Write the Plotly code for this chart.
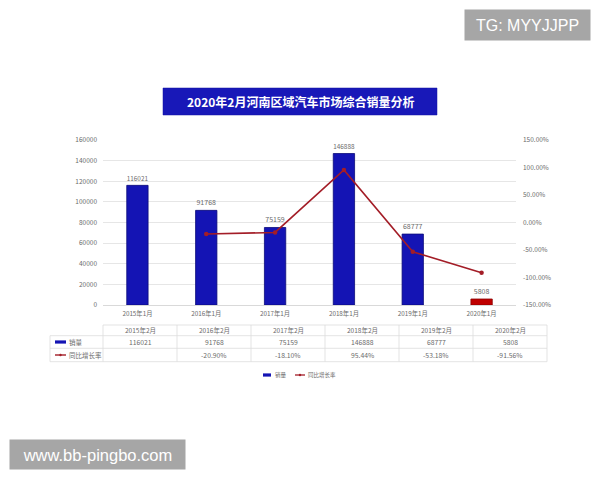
import plotly.graph_objects as go

# ---------------- data ----------------
categories = ["2015年1月", "2016年1月", "2017年1月", "2018年1月", "2019年1月", "2020年1月"]
table_headers = ["2015年2月", "2016年2月", "2017年2月", "2018年2月", "2019年2月", "2020年2月"]
sales = [116021, 91768, 75159, 146888, 68777, 5808]
growth = [None, -20.90, -18.10, 95.44, -53.18, -91.56]
series_names = ["销量", "同比增长率"]
title_text = "2020年2月河南区域汽车市场综合销量分析"
left_ticks = [0, 20000, 40000, 60000, 80000, 100000, 120000, 140000, 160000]
right_ticks = [-150, -100, -50, 0, 50, 100, 150]

# ---------------- styling ----------------
BLUE = "#1414b4"
BLUE_EDGE = "#0b0b7a"
RED_BAR = "#c00000"
LINE_RED = "#a31d27"
GRID = "#e6e6e6"
TXT = "#6b6b6b"
CJK = "Noto Sans CJK SC, Noto Sans, sans-serif"
W, H = 600, 480
PL, PR, PT, PB = 103, 516, 140, 305


def px_x(x):
    return (x - PL) / (PR - PL)


def px_y(y):
    return (PB - y) / (PB - PT)


bar_colors = [BLUE] * (len(sales) - 1) + [RED_BAR]
bar_edges = [BLUE_EDGE] * (len(sales) - 1) + ["#8a0000"]

fig = go.Figure()
fig.add_trace(go.Bar(
    x=categories, y=sales, name=series_names[0],
    marker=dict(color=bar_colors, line=dict(color=bar_edges, width=0.8)),
    width=0.31,
    text=[str(v) for v in sales], textposition="outside",
    textfont=dict(size=7, color=TXT, family=CJK),
    cliponaxis=False, showlegend=False, yaxis="y",
))
fig.add_trace(go.Scatter(
    x=categories, y=growth, name=series_names[1], mode="lines+markers",
    line=dict(color=LINE_RED, width=1.6),
    marker=dict(color=LINE_RED, size=4.5),
    connectgaps=False, showlegend=False, yaxis="y2",
))

shapes = []
annotations = []

# title banner
shapes.append(dict(type="rect", xref="paper", yref="paper",
                   x0=px_x(163), x1=px_x(437), y0=px_y(115), y1=px_y(88),
                   fillcolor="#1818b8", line=dict(color="#1010a0", width=0.5), layer="above"))
annotations.append(dict(xref="paper", yref="paper", x=px_x(300), y=px_y(101.5),
                        text="<b>" + title_text + "</b>", showarrow=False,
                        font=dict(size=12, color="white", family=CJK),
                        xanchor="center", yanchor="middle"))

# data table
col_left = 103
col_w = 74
tbl_right = col_left + col_w * len(table_headers)
y_top, y_r1, y_r2, y_r3 = 325, 335.7, 348.3, 361.7
LC = "#dcdcdc"
shapes.append(dict(type="line", xref="paper", yref="paper", x0=px_x(col_left), x1=px_x(tbl_right),
                   y0=px_y(y_top), y1=px_y(y_top), line=dict(color=LC, width=0.8)))
for yy in (y_r1, y_r2, y_r3):
    shapes.append(dict(type="line", xref="paper", yref="paper", x0=px_x(50), x1=px_x(tbl_right),
                       y0=px_y(yy), y1=px_y(yy), line=dict(color=LC, width=0.8)))
for i in range(len(table_headers) + 1):
    xx = col_left + col_w * i
    shapes.append(dict(type="line", xref="paper", yref="paper", x0=px_x(xx), x1=px_x(xx),
                       y0=px_y(y_top), y1=px_y(y_r3), line=dict(color=LC, width=0.8)))
shapes.append(dict(type="line", xref="paper", yref="paper", x0=px_x(50), x1=px_x(50),
                   y0=px_y(y_r1), y1=px_y(y_r3), line=dict(color=LC, width=0.8)))

for i, hdr in enumerate(table_headers):
    cx = col_left + col_w * (i + 0.5)
    annotations.append(dict(xref="paper", yref="paper", x=px_x(cx), y=px_y((y_top + y_r1) / 2),
                            text=hdr, showarrow=False, font=dict(size=6.5, color=TXT, family=CJK),
                            xanchor="center", yanchor="middle"))
    annotations.append(dict(xref="paper", yref="paper", x=px_x(cx), y=px_y((y_r1 + y_r2) / 2),
                            text=str(sales[i]), showarrow=False, font=dict(size=6.8, color=TXT, family=CJK),
                            xanchor="center", yanchor="middle"))
    g = growth[i]
    if g is not None:
        annotations.append(dict(xref="paper", yref="paper", x=px_x(cx), y=px_y((y_r2 + y_r3) / 2),
                                text=f"{g:.2f}%", showarrow=False, font=dict(size=6.8, color=TXT, family=CJK),
                                xanchor="center", yanchor="middle"))

# row labels with swatches
ym1 = (y_r1 + y_r2) / 2
ym2 = (y_r2 + y_r3) / 2
shapes.append(dict(type="rect", xref="paper", yref="paper", x0=px_x(55), x1=px_x(66),
                   y0=px_y(ym1 + 1.6), y1=px_y(ym1 - 1.6), fillcolor=BLUE, line=dict(width=0)))
shapes.append(dict(type="line", xref="paper", yref="paper", x0=px_x(55), x1=px_x(66),
                   y0=px_y(ym2), y1=px_y(ym2), line=dict(color=LINE_RED, width=1.4)))
shapes.append(dict(type="circle", xref="paper", yref="paper", x0=px_x(59.3), x1=px_x(61.7),
                   y0=px_y(ym2 + 1.2), y1=px_y(ym2 - 1.2), fillcolor=LINE_RED, line=dict(width=0)))
annotations.append(dict(xref="paper", yref="paper", x=px_x(67), y=px_y(ym1), text=series_names[0],
                        showarrow=False, font=dict(size=6.5, color=TXT, family=CJK),
                        xanchor="left", yanchor="middle"))
annotations.append(dict(xref="paper", yref="paper", x=px_x(67), y=px_y(ym2), text=series_names[1],
                        showarrow=False, font=dict(size=6.5, color=TXT, family=CJK),
                        xanchor="left", yanchor="middle"))

# bottom legend
ly = 375
shapes.append(dict(type="rect", xref="paper", yref="paper", x0=px_x(263), x1=px_x(271),
                   y0=px_y(ly + 1.6), y1=px_y(ly - 1.6), fillcolor=BLUE, line=dict(width=0)))
annotations.append(dict(xref="paper", yref="paper", x=px_x(273), y=px_y(ly), text=series_names[0],
                        showarrow=False, font=dict(size=5.5, color=TXT, family=CJK),
                        xanchor="left", yanchor="middle"))
shapes.append(dict(type="line", xref="paper", yref="paper", x0=px_x(295), x1=px_x(305),
                   y0=px_y(ly), y1=px_y(ly), line=dict(color=LINE_RED, width=1.3)))
shapes.append(dict(type="circle", xref="paper", yref="paper", x0=px_x(298.8), x1=px_x(301.2),
                   y0=px_y(ly + 1.2), y1=px_y(ly - 1.2), fillcolor=LINE_RED, line=dict(width=0)))
annotations.append(dict(xref="paper", yref="paper", x=px_x(306), y=px_y(ly), text=series_names[1],
                        showarrow=False, font=dict(size=5.5, color=TXT, family=CJK),
                        xanchor="left", yanchor="middle"))

# watermark boxes
annotations.append(dict(xref="paper", yref="paper", x=px_x(527.5), y=px_y(25), text="TG: MYYJJPP",
                        showarrow=False, font=dict(size=16, color="white", family="Liberation Sans, Arial"),
                        bgcolor="#a6a6a6", width=125, height=30, borderpad=0,
                        xanchor="center", yanchor="middle"))
annotations.append(dict(xref="paper", yref="paper", x=px_x(97.5), y=px_y(454.5), text="www.bb-pingbo.com",
                        showarrow=False, font=dict(size=16.5, color="white", family="Liberation Sans, Arial"),
                        bgcolor="#a6a6a6", width=175, height=29, borderpad=0,
                        xanchor="center", yanchor="middle"))

fig.update_layout(
    width=W, height=H,
    margin=dict(l=PL, r=W - PR, t=PT, b=H - PB, pad=0),
    paper_bgcolor="white", plot_bgcolor="white",
    bargap=0.69,
    xaxis=dict(type="category", categoryorder="array", categoryarray=categories,
               tickfont=dict(size=6.3, color=TXT, family=CJK), showgrid=False,
               showline=True, linecolor="#d9d9d9", linewidth=0.8, ticks="", ticklabelstandoff=3),
    yaxis=dict(range=[0, 160000], tickmode="array", tickvals=left_ticks,
               ticktext=[str(v) for v in left_ticks],
               tickfont=dict(size=6.5, color=TXT, family=CJK), showgrid=True, gridcolor=GRID,
               gridwidth=0.8, zeroline=False, ticks="", ticklabelstandoff=5),
    yaxis2=dict(range=[-150, 150], tickmode="array", tickvals=right_ticks,
                ticktext=[f"{v:.2f}%" for v in right_ticks],
                overlaying="y", side="right", showgrid=False, zeroline=False,
                tickfont=dict(size=6.5, color=TXT, family=CJK), ticks="", ticklabelstandoff=6),
    shapes=shapes,
    annotations=annotations,
    showlegend=False,
)

fig.write_html("out.html", config={"displayModeBar": False},
               post_script="document.body.style.margin='0';document.body.style.padding='0';")
